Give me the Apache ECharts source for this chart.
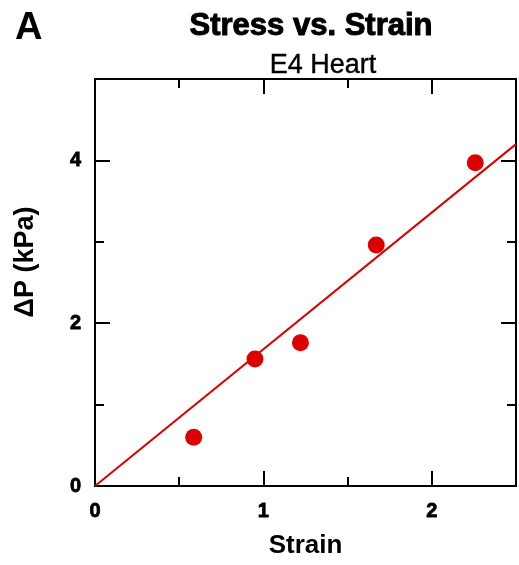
<!DOCTYPE html>
<html>
<head>
<meta charset="utf-8">
<script src="https://cdn.jsdelivr.net/npm/echarts@6/dist/echarts.min.js"></script>
<style>
  html, body { margin: 0; padding: 0; background: #fff; }
  #chart { width: 519px; height: 565px; }
</style>
</head>
<body>
<div id="chart"></div>
<script>
// measured points (strain, deltaP in kPa)
const strainVals = [0.586, 0.95, 1.22, 1.67, 2.258]
const pressureVals = [0.60, 1.56, 1.76, 2.96, 3.97]
// linear fit through origin, end points
const fitX = [0, 2.5]
const fitY = [0, 4.2]
const xTickLabels = ['0', '1', '2']
const yTickLabels = ['0', '2', '4']

const red = '#dd0000'
const font = 'Liberation Sans, Arial, sans-serif'

const chart = echarts.init(document.getElementById('chart'))

// one axis with the labels + short ticks, a second with long ticks only
function xAx (pos, step, len, labels) {
  return {
    type: 'value', position: pos, min: 0, max: 2.5, interval: step,
    axisLine: { show: true, onZero: false, lineStyle: { color: '#000', width: 2 } },
    axisTick: { show: true, inside: true, length: len, lineStyle: { color: '#000', width: 2 } },
    axisLabel: labels ? {
      show: true, margin: 15, color: '#000', fontFamily: font, fontWeight: 'bold', fontSize: 20,
      textBorderColor: '#000', textBorderWidth: 0.8,
      formatter: v => xTickLabels.indexOf(String(v)) >= 0 ? String(v) : ''
    } : { show: false },
    splitLine: { show: false }
  }
}
function yAx (pos, step, len, labels) {
  return {
    type: 'value', position: pos, min: 0, max: 5, interval: step,
    axisLine: { show: true, onZero: false, lineStyle: { color: '#000', width: 2 } },
    axisTick: { show: true, inside: true, length: len, lineStyle: { color: '#000', width: 2 } },
    axisLabel: labels ? {
      show: true, margin: 14, color: '#000', fontFamily: font, fontWeight: 'bold', fontSize: 20,
      textBorderColor: '#000', textBorderWidth: 0.8,
      formatter: v => yTickLabels.indexOf(String(v)) >= 0 ? String(v) : ''
    } : { show: false },
    splitLine: { show: false }
  }
}

const xAxes = [xAx('bottom', 0.5, 9, true), xAx('bottom', 1, 15, false), xAx('top', 0.5, 9, false), xAx('top', 1, 15, false)]
xAxes[0].name = 'Strain'
xAxes[0].nameLocation = 'middle'
xAxes[0].nameGap = 47
xAxes[0].nameTextStyle = { color: '#000', fontFamily: font, fontWeight: 'bold', fontSize: 26 }

const yAxes = [yAx('left', 1, 9, true), yAx('left', 2, 15, false), yAx('right', 1, 9, false), yAx('right', 2, 15, false)]

const option = {
  backgroundColor: '#fff',
  animation: false,
  title: [
    { text: 'A', left: 10, top: 5, textStyle: { color: '#000', fontFamily: font, fontWeight: 'bold', fontSize: 38 } },
    { text: 'Stress vs. Strain', left: 306, top: 6, textAlign: 'center', textStyle: { color: '#000', fontFamily: font, fontWeight: 'bold', fontSize: 31, textBorderColor: '#000', textBorderWidth: 1 } },
    { text: 'E4 Heart', left: 318, top: 47, textAlign: 'center', textStyle: { color: '#000', fontFamily: font, fontWeight: 'normal', fontSize: 27, textBorderColor: '#000', textBorderWidth: 0.4 } }
  ],
  graphic: [
    {
      type: 'text', x: 26, y: 262, rotation: Math.PI / 2,
      style: { text: 'ΔP (kPa)', fill: '#000', font: 'bold 27px ' + font, align: 'center', verticalAlign: 'middle' }
    }
  ],
  grid: { left: 95, top: 79, right: 0, bottom: 79, containLabel: false },
  xAxis: xAxes,
  yAxis: yAxes,
  series: [
    {
      name: 'fit',
      type: 'line',
      data: fitX.map((x, i) => [x, fitY[i]]),
      showSymbol: false,
      lineStyle: { color: red, width: 2 },
      z: 2
    },
    {
      name: 'data',
      type: 'scatter',
      data: strainVals.map((x, i) => [x, pressureVals[i]]),
      symbolSize: 17,
      itemStyle: { color: red, opacity: 1 },
      z: 3
    }
  ]
}

chart.setOption(option)
window.addEventListener('resize', () => {
  chart.resize()
})
</script>
</body>
</html>
